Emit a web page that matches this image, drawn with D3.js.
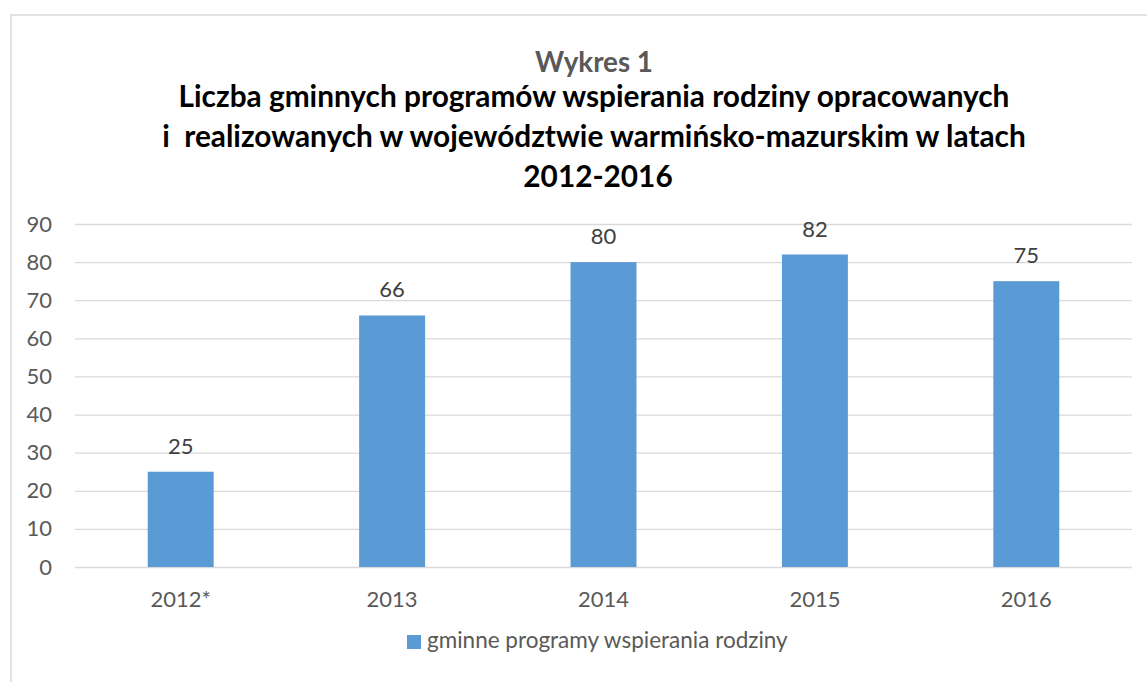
<!DOCTYPE html>
<html>
<head>
<meta charset="utf-8">
<script src="https://cdn.jsdelivr.net/npm/d3@7"></script>
<style>
  body { margin: 0; background: #fff; }
  text { font-family: Lato, "Open Sans", sans-serif; }
</style>
</head>
<body>
<div id="chart"></div>
<script>
// Data
let years = ["2012*", "2013", "2014", "2015", "2016"];
let programs = [25, 66, 80, 82, 75];
let yTicks = [0, 10, 20, 30, 40, 50, 60, 70, 80, 90];
let seriesName = "gminne programy wspierania rodziny";
let titleTop = "Wykres 1";
let titleLines = [
  "Liczba gminnych programów wspierania rodziny opracowanych",
  "i  realizowanych w województwie warmińsko-mazurskim w latach",
  "2012-2016"
];

let svgWidth = 1147;
let svgHeight = 682;

let margin = { top: 224, right: 15, bottom: 115, left: 75 };
let width = svgWidth - margin.left - margin.right;
let height = 567 - margin.top;

let svg = d3.select("#chart")
  .append("svg")
  .attr("width", svgWidth)
  .attr("height", svgHeight);

// chart area border (top + left visible)
svg.append("path")
  .attr("d", `M11,682 V15 H${svgWidth}`)
  .attr("fill", "none")
  .attr("stroke", "#d9d9d9")
  .attr("stroke-width", 1.5);

// fit a text to a target width by adjusting its font size
function fitText(sel, target) {
  let size = parseFloat(sel.style("font-size"));
  let w = sel.node().getComputedTextLength();
  let newSize = size * target / w;
  sel.style("font-size", newSize + "px");
  return newSize;
}

// Titles
let centerX = 594;
let t0 = svg.append("text")
  .attr("x", centerX).attr("y", 72)
  .attr("text-anchor", "middle")
  .style("font-weight", "bold")
  .style("font-size", "26px")
  .style("fill", "#595959")
  .text(titleTop);
fitText(t0, 118);

let lineY = [107, 147, 187];
let lineW = [831, 864];
let titleSize = 30;
titleLines.forEach((line, i) => {
  let t = svg.append("text")
    .attr("x", centerX + (i === 2 ? 4 : 0)).attr("y", lineY[i])
    .attr("text-anchor", "middle")
    .style("font-weight", "bold")
    .style("font-size", titleSize + "px")
    .style("white-space", "pre")
    .style("fill", "#000")
    .text(line);
  if (i === 0) titleSize = fitText(t, lineW[i]);
  else if (i === 1) fitText(t, lineW[i]);
});

let chartGroup = svg.append("g")
  .attr("transform", `translate(${margin.left}, ${margin.top})`);

// Scales
let xScale = d3.scaleBand()
  .domain(years)
  .range([0, width])
  .paddingInner(0.688)
  .paddingOuter(0.344);

let yScale = d3.scaleLinear()
  .domain([0, 90])
  .range([height, 0]);

// Y axis with gridlines
let yAxis = chartGroup.append("g")
  .call(d3.axisLeft(yScale).tickValues(yTicks).tickSize(-width).tickPadding(23));
yAxis.select(".domain").remove();
yAxis.selectAll(".tick line")
  .attr("stroke", "#d9d9d9")
  .attr("stroke-width", 1.3);
yAxis.selectAll(".tick text")
  .style("font-size", "22px")
  .style("font-family", "Lato, sans-serif")
  .attr("fill", "#595959");

// X axis
let xAxis = chartGroup.append("g")
  .attr("transform", `translate(0, ${height})`)
  .call(d3.axisBottom(xScale).tickSize(0));
xAxis.select(".domain").remove();
xAxis.selectAll(".tick text")
  .attr("y", 40)
  .attr("dy", 0)
  .style("font-size", "22px")
  .style("font-family", "Lato, sans-serif")
  .attr("fill", "#595959");

// Bars
chartGroup.selectAll("rect.bar")
  .data(programs)
  .enter()
  .append("rect")
  .attr("class", "bar")
  .attr("x", (d, i) => xScale(years[i]))
  .attr("y", d => yScale(d))
  .attr("width", xScale.bandwidth())
  .attr("height", d => height - yScale(d))
  .attr("fill", "#5b9bd5");

// Value labels
chartGroup.selectAll("text.value")
  .data(programs)
  .enter()
  .append("text")
  .attr("class", "value")
  .attr("x", (d, i) => xScale(years[i]) + xScale.bandwidth() / 2)
  .attr("y", d => yScale(d) - 18)
  .attr("text-anchor", "middle")
  .style("font-size", "22px")
  .style("fill", "#404040")
  .text(d => d);

// Legend
let legend = svg.append("g");
legend.append("rect")
  .attr("x", 407).attr("y", 635)
  .attr("width", 14).attr("height", 14)
  .attr("fill", "#5b9bd5");
let lt = legend.append("text")
  .attr("x", 427).attr("y", 648)
  .style("font-size", "21px")
  .style("fill", "#595959")
  .text(seriesName);
fitText(lt, 361);
</script>
</body>
</html>
